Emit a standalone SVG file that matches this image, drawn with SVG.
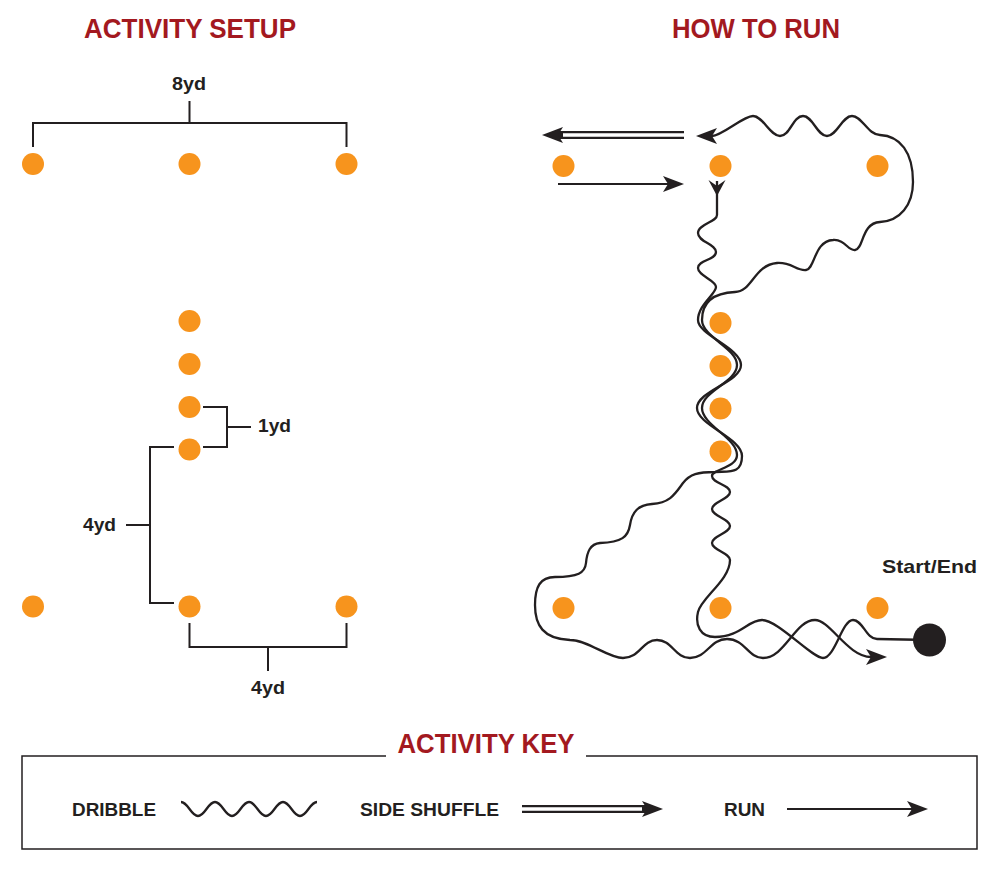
<svg xmlns="http://www.w3.org/2000/svg" width="1000" height="871" viewBox="0 0 1000 871">
<style>
.cone{fill:#f7941d}
.ln{fill:none;stroke:#231f20;stroke-width:2}
.drib{fill:none;stroke:#231f20;stroke-width:2.3;stroke-linejoin:round}
.sh-out{fill:none;stroke:#231f20;stroke-width:8}
.sh-in{fill:none;stroke:#ffffff;stroke-width:3.6}
.title{font-family:"Liberation Sans Narrow","Liberation Sans",Arial,sans-serif;font-weight:bold;font-size:27px;fill:#a3191f;text-anchor:middle}
.lbl{font-family:"Liberation Sans",Arial,sans-serif;font-weight:bold;font-size:19px;fill:#231f20}
.key{font-family:"Liberation Sans Narrow","Liberation Sans",Arial,sans-serif;font-weight:bold;font-size:18px;fill:#231f20}
</style>
<defs>
<marker id="ah" markerUnits="userSpaceOnUse" markerWidth="30" markerHeight="20" viewBox="-8 -10 30 20" refX="0" refY="0" orient="auto" overflow="visible">
<path d="M16,0 L-5,-8 L0,0 L-5,8 Z" fill="#231f20"/>
</marker>
<marker id="ahs" markerUnits="userSpaceOnUse" markerWidth="24" markerHeight="24" viewBox="-4 -12 24 24" refX="0" refY="0" orient="auto" overflow="visible">
<path d="M15,0 L-1,-8.5 L5,0 L-1,8.5 Z" fill="#231f20"/>
</marker>
</defs>
<rect width="1000" height="871" fill="#ffffff"/>

<g id="titles">
<text class="title" x="190" y="38" textLength="212" lengthAdjust="spacingAndGlyphs">ACTIVITY SETUP</text>
<text class="title" x="756" y="38" textLength="168" lengthAdjust="spacingAndGlyphs">HOW TO RUN</text>
</g>

<g id="dimensions">
<path class="ln" d="M33,147 V123 H346.5 V147 M189.5,123 V101"/>
<text class="lbl" x="189" y="90" text-anchor="middle" textLength="34" lengthAdjust="spacingAndGlyphs">8yd</text>
<path class="ln" d="M203,407 H227 V447 H203 M227,427 H251"/>
<text class="lbl" x="258" y="432" textLength="33" lengthAdjust="spacingAndGlyphs">1yd</text>
<path class="ln" d="M174,447 H150 V603 H174 M150,525 H126"/>
<text class="lbl" x="83" y="531" textLength="33" lengthAdjust="spacingAndGlyphs">4yd</text>
<path class="ln" d="M189.5,623 V647 H346.5 V623 M268,647 V671"/>
<text class="lbl" x="268" y="694" text-anchor="middle" textLength="34" lengthAdjust="spacingAndGlyphs">4yd</text>
</g>

<g id="connectors">
<path class="drib" d="M930,640 L877,639 C866,639 863,620 853,620 C842,620 835,658 823,658 C812,658 778,620 762,620 C748,620 740,637 715,637 C700,637 695,625 698,612 C701,598 730,580 730,560 C730,553 712,550 712,543 S730,533 730,526 S712,516 712,509 S730,499 730,492 S712,483 712,476 S737,468 737,455 C737,438 702,425 702,408 S737,382 737,365 S702,337 702,320 C702,303 712,293 735,292 C752,292 754,265 777,263 C792,262 796,271 806,270 C815,269 814,241 833,240 C845,239 848,251 855,250 C864,249 861,223 880,222 C900,221 913,205 913,182 C913,152 900,136 880,135 C868,135 862,116 852,116 S837,136 827,136 S813,116 803,116 S790,136 780,136 S763,116 753,116 S722,136 712,136" marker-end="url(#ah)"/>
<path class="drib" d="M717,181 L717,215 C717,222 698,224 698,233 S716,244 716,252 S698,260 698,268 S716,280 716,287 S698,305 698,320 S741,348 741,365 S697,391 697,408 S742,438 742,456 S730,471 715,472 C698,472 690,474 683,483 C675,494 670,503 652,504 C638,505 632,512 630,525 C628,537 622,542 600,543 C590,544 587,552 586,563 C585,573 578,577 555,577 C540,577 535,587 535,605 C535,625 543,639 570,640 C588,640 608,658 623,658 C640,658 642,640 657,640 C672,640 675,658 690,658 C707,658 710,639 727,639 C745,639 748,658 763,658 C785,658 795,620 815,620 C830,620 848,657 871,657" marker-start="url(#ahs)" marker-end="url(#ah)"/>
<path class="sh-out" d="M684,135 L558,135" marker-end="url(#ah)"/>
<path class="sh-in" d="M684,135 L563,135"/>
<path class="ln" d="M558,184 L668,184" marker-end="url(#ah)"/>
</g>

<g id="setup-cones">
<circle class="cone" cx="33" cy="164" r="11"/>
<circle class="cone" cx="189.5" cy="164" r="11"/>
<circle class="cone" cx="346.5" cy="164" r="11"/>
<circle class="cone" cx="189.5" cy="321" r="11"/>
<circle class="cone" cx="189.5" cy="364" r="11"/>
<circle class="cone" cx="189.5" cy="407" r="11"/>
<circle class="cone" cx="189.5" cy="449.5" r="11"/>
<circle class="cone" cx="33" cy="606.5" r="11"/>
<circle class="cone" cx="189.5" cy="606.5" r="11"/>
<circle class="cone" cx="346.5" cy="606.5" r="11"/>
</g>

<g id="run-cones">
<circle class="cone" cx="563.5" cy="166" r="11"/>
<circle class="cone" cx="720.5" cy="166" r="11"/>
<circle class="cone" cx="877.5" cy="166" r="11"/>
<circle class="cone" cx="720.5" cy="323" r="11"/>
<circle class="cone" cx="720.5" cy="366" r="11"/>
<circle class="cone" cx="720.5" cy="408.5" r="11"/>
<circle class="cone" cx="720.5" cy="451.5" r="11"/>
<circle class="cone" cx="563.5" cy="608" r="11"/>
<circle class="cone" cx="720.5" cy="608" r="11"/>
<circle class="cone" cx="877.5" cy="608" r="11"/>
</g>

<g id="start-end">
<circle cx="929.5" cy="640" r="16.5" fill="#231f20"/>
<text class="lbl" x="882" y="573" textLength="95" lengthAdjust="spacingAndGlyphs">Start/End</text>
</g>

<g id="activity-key">
<path fill="none" stroke="#231f20" stroke-width="1.5" d="M386,756 H22 V849 H977 V756 H586"/>
<text class="title" x="486" y="753" textLength="177" lengthAdjust="spacingAndGlyphs">ACTIVITY KEY</text>
<text class="key" x="72" y="816" textLength="84" lengthAdjust="spacingAndGlyphs">DRIBBLE</text>
<path class="drib" d="M181,802 c7,0 10,14 17,14 s10,-14 17,-14 s10,14 17,14 s10,-14 17,-14 s10,14 17,14 s10,-14 17,-14 s10,14 17,14 s10,-14 17,-14"/>
<text class="key" x="360" y="816" textLength="139" lengthAdjust="spacingAndGlyphs">SIDE SHUFFLE</text>
<path class="sh-out" d="M522,809 L647,809" marker-end="url(#ah)"/>
<path class="sh-in" d="M522,809 L642,809"/>
<text class="key" x="724" y="816" textLength="41" lengthAdjust="spacingAndGlyphs">RUN</text>
<path class="ln" d="M787,809 L912,809" marker-end="url(#ah)"/>
</g>
</svg>
